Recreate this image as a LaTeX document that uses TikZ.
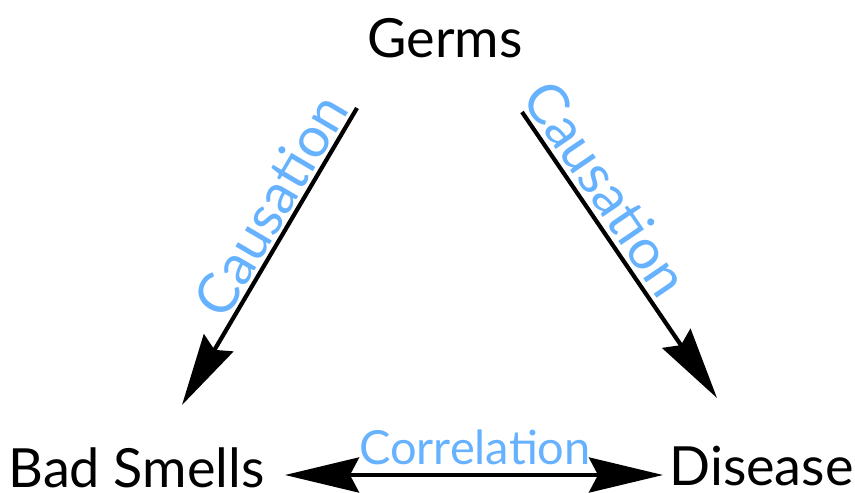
\documentclass[tikz,border=0pt]{standalone}
\usepackage{fontspec}
\setmainfont{Lato}
\usetikzlibrary{arrows.meta}
\definecolor{linkblue}{RGB}{102,178,255}
\begin{document}
\begin{tikzpicture}[x=1pt,y=-1pt,
  term/.style={inner sep=0pt, font=\fontsize{54}{60}\selectfont, text=black},
  linklabel/.style={inner sep=0pt, font=\fontsize{47}{52}\selectfont, text=linkblue},
  causelabel/.style={linklabel, font=\fontsize{56}{60}\selectfont},
  causal/.style={line width=4.2pt, -{Stealth[length=72pt,width=34pt,inset=8pt]}},
  mutual/.style={line width=4.2pt, {Stealth[length=74pt,width=35pt,inset=9pt]}-{Stealth[length=74pt,width=35pt,inset=9pt]}}]
  \useasboundingbox (0,0) rectangle (855,493);
  % the three variables
  \node[term, anchor=base] (germs) at (445,57) {Germs};
  \node[term, anchor=base] (bad) at (136.5,487) {Bad Smells};
  \node[term, anchor=base] (disease) at (761.5,485) {Disease};
  % arrow end points
  \coordinate (gL) at (357,108);
  \coordinate (bT) at (182,405);
  \coordinate (gR) at (522,112);
  \coordinate (dT) at (717,398);
  \coordinate (bR) at (285,475);
  \coordinate (dL) at (663,475);
  % causal links from the common cause
  \draw[causal] (gL) -- node[causelabel, sloped, anchor=base, pos=0.37, yshift=5pt] (lblL) {Causation} (bT);
  \draw[causal] (gR) -- node[causelabel, sloped, anchor=base, pos=0.32, yshift=7pt] (lblR) {Causation} (dT);
  % the observed correlation
  \draw[mutual] (bR) -- (dL);
  \node[linklabel, anchor=base] (corr) at (475,464) {Correlation};
\end{tikzpicture}
\end{document}
